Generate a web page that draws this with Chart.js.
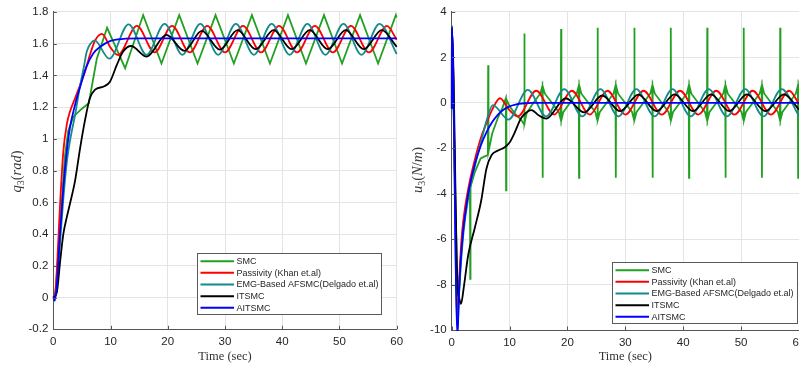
<!DOCTYPE html>
<html>
<head>
<meta charset="utf-8">
<script src="https://cdn.jsdelivr.net/npm/chart.js@4.4.0/dist/chart.umd.min.js"></script>
<style>
  html, body { margin: 0; padding: 0; background: #fff; overflow: hidden; width: 799px; height: 371px; }
  #wq { position: absolute; left: 0; top: 0; width: 420px; height: 371px; }
  #wu { position: absolute; left: 400px; top: 0; width: 420px; height: 371px; }
</style>
</head>
<body>
<div id="wq"><canvas id="cq" width="420" height="371"></canvas></div>
<div id="wu"><canvas id="cu" width="420" height="371"></canvas></div>
<script>
// ---- series names and tick labels ----
const seriesNames = ['SMC', 'Passivity (Khan et.al)', 'EMG-Based AFSMC(Delgado et.al)', 'ITSMC', 'AITSMC'];
const timeTicks = [0, 10, 20, 30, 40, 50, 60];
const timeTickLabels = ['0', '10', '20', '30', '40', '50', '60'];
const qTicks = [-0.2, 0, 0.2, 0.4, 0.6, 0.8, 1, 1.2, 1.4, 1.6, 1.8];
const qTickLabels = ['-0.2', '0', '0.2', '0.4', '0.6', '0.8', '1', '1.2', '1.4', '1.6', '1.8'];
const uTicks = [-10, -8, -6, -4, -2, 0, 2, 4];
const uTickLabels = ['-10', '-8', '-6', '-4', '-2', '0', '2', '4'];

// ---- joint position q3 (rad) ----
const qSmcT = [0, 0.3, 0.9, 1.5, 2.0, 2.6, 3.5, 5.0, 6.2, 7.6, 9.4, 12.55, 15.7, 18.9, 22.0, 25.2, 28.35, 31.55, 34.7, 37.85, 41.0, 44.15, 47.3, 50.45, 53.6, 56.75, 59.85, 60];
const qSmc  = [0, 0.0, 0.28, 0.61, 0.88, 1.05, 1.14, 1.19, 1.225, 1.505, 1.70, 1.445, 1.78, 1.475, 1.78, 1.475, 1.78, 1.475, 1.78, 1.475, 1.78, 1.475, 1.78, 1.475, 1.78, 1.475, 1.78, 1.765];

const qPasT = [0, 0.4, 0.9, 1.2, 1.75, 2.35, 2.9, 3.8, 4.7, 5.5, 6.4, 7.3, 8.5, 10.0, 11.3, 14.6, 17.7, 20.75, 23.85, 26.9, 30.0, 33.15, 36.3, 39.45, 42.6, 45.7, 48.85, 52.0, 55.15, 58.3, 60];
const qPas  = [0, 0.05, 0.38, 0.6, 0.92, 1.09, 1.17, 1.255, 1.34, 1.42, 1.53, 1.62, 1.662, 1.575, 1.528, 1.712, 1.545, 1.712, 1.545, 1.712, 1.545, 1.712, 1.545, 1.712, 1.545, 1.712, 1.545, 1.712, 1.545, 1.712, 1.625];

const qEmgT = [0, 0.5, 1.17, 1.75, 2.35, 2.9, 3.8, 4.7, 5.3, 5.85, 6.5, 7.2, 9.8, 13.15, 16.3, 19.45, 22.55, 25.7, 28.8, 31.9, 35.05, 38.15, 41.3, 44.4, 47.55, 50.7, 53.85, 57.0, 60];
const qEmg  = [0, 0.03, 0.34, 0.62, 0.85, 0.985, 1.15, 1.34, 1.445, 1.55, 1.60, 1.62, 1.505, 1.722, 1.53, 1.725, 1.53, 1.725, 1.53, 1.725, 1.53, 1.725, 1.53, 1.725, 1.53, 1.725, 1.53, 1.725, 1.535];

const qItsT = [0, 0.6, 1.2, 1.75, 2.35, 2.9, 3.8, 4.7, 5.5, 6.4, 7.3, 8.8, 9.9, 11.1, 12.2, 13.6, 16.3, 19.75, 22.9, 25.95, 29.1, 32.2, 35.35, 38.5, 41.65, 44.8, 47.95, 51.1, 54.25, 57.4, 60];
const qIts  = [0, 0.03, 0.23, 0.4, 0.505, 0.59, 0.735, 0.945, 1.11, 1.257, 1.31, 1.33, 1.36, 1.466, 1.55, 1.585, 1.518, 1.655, 1.555, 1.68, 1.562, 1.685, 1.565, 1.685, 1.565, 1.685, 1.565, 1.685, 1.565, 1.685, 1.58];

const qAitT = [0, 0.25, 0.6, 1.17, 1.75, 2.35, 2.9, 3.8, 4.7, 5.8, 7.0, 8.2, 9.9, 12.2, 15, 60];
const qAit  = [0, -0.02, 0.07, 0.40, 0.69, 0.92, 1.07, 1.215, 1.33, 1.455, 1.54, 1.58, 1.616, 1.63, 1.633, 1.633];

// ---- control input u3 (N/m) ----
const uSmcT = [0, 0.02, 1.05, 1.5, 2.0, 2.6, 3.15, 3.2, 3.25, 4.0, 5.0, 5.8, 6.25, 6.3, 6.35, 7.0, 8.0, 8.8, 9.35, 9.4, 9.45, 10.0, 11.0, 12.0, 12.5, 12.55, 12.6,
  12.95, 14.13, 15.3, 15.65, 15.7, 15.75, 16.1, 17.3, 18.5, 18.85, 18.9, 18.95,
  19.3, 20.45, 21.6, 21.95, 22.0, 22.05, 22.4, 23.6, 24.8, 25.15, 25.2, 25.25,
  25.6, 26.78, 27.95, 28.3, 28.35, 28.4, 28.75, 29.95, 31.15, 31.5, 31.55, 31.6,
  31.95, 33.13, 34.3, 34.65, 34.7, 34.75, 35.1, 36.28, 37.45, 37.8, 37.85, 37.9,
  38.25, 39.43, 40.6, 40.95, 41.0, 41.05, 41.4, 42.58, 43.75, 44.1, 44.15, 44.2,
  44.55, 45.73, 46.9, 47.25, 47.3, 47.35, 47.7, 48.88, 50.05, 50.4, 50.45, 50.5,
  50.85, 52.03, 53.2, 53.55, 53.6, 53.65, 54.0, 55.18, 56.35, 56.7, 56.75, 56.8,
  57.15, 58.3, 59.45, 59.8, 59.85, 59.9, 60];
const uSmc  = [-0.25, 3.4, -9.3, -7.0, -5.3, -4.3, -3.75, -7.75, -3.7, -3.05, -2.45, -2.35, -2.3, 1.65, -2.15, -1.35, -0.65, -0.2, 0.2, -3.85, 0.15, -0.15, -0.5, -0.75, -0.95, 3.05, -0.9,
  -0.45, 0, 0.4, 0.72, -3.3, 0.72, 0.4, 0, -0.4, -0.75, 3.25, -0.75,
  -0.4, 0, 0.4, 0.75, -3.3, 0.75, 0.4, 0, -0.4, -0.75, 3.3, -0.75,
  -0.4, 0, 0.4, 0.75, -3.3, 0.75, 0.4, 0, -0.4, -0.75, 3.3, -0.75,
  -0.4, 0, 0.4, 0.75, -3.3, 0.75, 0.4, 0, -0.4, -0.75, 3.3, -0.75,
  -0.4, 0, 0.4, 0.75, -3.3, 0.75, 0.4, 0, -0.4, -0.75, 3.3, -0.75,
  -0.4, 0, 0.4, 0.75, -3.3, 0.75, 0.4, 0, -0.4, -0.75, 3.3, -0.75,
  -0.4, 0, 0.4, 0.75, -3.3, 0.75, 0.4, 0, -0.4, -0.75, 3.3, -0.75,
  -0.4, 0, 0.4, 0.75, -3.3, 0.75, 0.65];

const uPasT = [0, 0.02, 1.05, 1.3, 1.7, 2.2, 3.0, 4.0, 5.1, 6.0, 7.0, 8.35, 9.9, 11.4, 14.6, 17.7, 20.75, 23.85, 26.9, 30.0, 33.15, 36.3, 39.45, 42.6, 45.7, 48.85, 52.0, 55.15, 58.3, 60];
const uPas  = [-0.25, 3.3, -9.4, -7.8, -6.0, -4.8, -3.6, -2.5, -1.5, -0.9, -0.3, 0.2, -0.3, -0.6, 0.53, -0.52, 0.53, -0.52, 0.53, -0.52, 0.53, -0.52, 0.53, -0.52, 0.53, -0.52, 0.53, -0.52, 0.53, -0.05];

const uEmgT = [0, 0.02, 1.0, 1.3, 2.0, 3.0, 4.0, 5.0, 6.0, 7.1, 9.8, 13.15, 16.3, 19.45, 22.55, 25.7, 28.8, 31.9, 35.05, 38.15, 41.3, 44.4, 47.55, 50.7, 53.85, 57.0, 60];
const uEmg  = [-0.25, 3.4, -9.9, -8.3, -5.8, -4.0, -2.8, -1.8, -0.8, -0.1, -0.74, 0.57, -0.6, 0.6, -0.6, 0.6, -0.6, 0.6, -0.6, 0.6, -0.6, 0.6, -0.6, 0.6, -0.6, 0.6, -0.58];

const uItsT = [0, 0.02, 1.0, 1.3, 1.6, 2.1, 2.85, 4.0, 5.1, 6.0, 6.9, 8.0, 9.1, 10.0, 10.9, 12.0, 13.2, 13.8, 15.0, 16.3, 19.7, 22.9, 26.0, 29.1, 32.25, 35.4, 38.5, 41.7, 44.8, 47.95, 51.0, 54.2, 57.4, 60];
const uIts  = [-0.25, 3.3, -8.0, -8.6, -8.85, -8.1, -6.7, -5.5, -4.3, -2.9, -2.3, -2.1, -1.97, -1.75, -1.3, -0.67, -0.37, -0.32, -0.55, -0.7, 0.2, -0.42, 0.32, -0.37, 0.36, -0.37, 0.37, -0.37, 0.37, -0.37, 0.37, -0.37, 0.37, -0.3];

const uAitT = [0, 0.02, 1.0, 1.2, 1.5, 2.0, 2.5, 3.0, 4.0, 5.0, 6.0, 7.0, 8.0, 9.0, 10.0, 11.0, 12.5, 14.0, 60];
const uAit  = [-0.25, 3.35, -10.3, -8.8, -7.2, -5.6, -4.6, -3.8, -2.7, -1.9, -1.3, -0.85, -0.52, -0.3, -0.16, -0.08, -0.02, 0, 0];

// ---- styling ----
const seriesColors = ['#22a022', '#ff0000', '#148a8c', '#000000', '#0000ff'];
const sansFont = '"Liberation Sans", Arial, Helvetica, sans-serif';
const serifFont = '"Liberation Serif", "Times New Roman", serif';
const axisColor = '#555555';
const gridColor = '#e4e4e4';
const textColor = '#262626';

function toPoints(ts, vs) { return ts.map((t, i) => ({ x: t, y: vs[i] })); }

function makeDatasets(seriesList) {
  return seriesList.map((s, i) => ({
    label: seriesNames[i],
    data: toPoints(s[0], s[1]),
    borderColor: seriesColors[i],
    borderWidth: 1.8,
    pointRadius: 0,
    fill: false,
    order: 5 - i,
    clip: 1,
    tension: i === 0 ? 0 : 0.4,
    cubicInterpolationMode: i === 0 ? 'default' : 'monotone'
  }));
}

function labelFor(ticks, labels) {
  return (value) => {
    const k = ticks.findIndex(v => Math.abs(v - value) < 1e-9);
    return k >= 0 ? labels[k] : '';
  };
}

// axis title with subscript, inward tick marks and the boxed legend
const decorPlugin = {
  id: 'decor',
  afterDatasetsDraw(chart, args, opts) {
    const ctx = chart.ctx;
    const a = chart.chartArea;
    const xs = chart.scales.x, ys = chart.scales.y;
    ctx.save();
    // inward ticks
    ctx.strokeStyle = axisColor;
    ctx.lineWidth = 1;
    ctx.beginPath();
    xs.ticks.forEach(t => {
      const px = Math.round(xs.getPixelForValue(t.value)) + 0.5;
      ctx.moveTo(px, a.bottom); ctx.lineTo(px, a.bottom - 3.5);
    });
    ys.ticks.forEach(t => {
      const py = Math.round(ys.getPixelForValue(t.value)) + 0.5;
      ctx.moveTo(a.left, py); ctx.lineTo(a.left + 3.5, py);
    });
    ctx.stroke();

    // legend
    const L = opts.legend;
    ctx.fillStyle = '#ffffff';
    ctx.fillRect(L.x, L.y, L.w, L.h);
    ctx.strokeStyle = '#5a5a5a';
    ctx.lineWidth = 1;
    ctx.strokeRect(Math.round(L.x) + 0.5, Math.round(L.y) + 0.5, L.w, L.h);
    ctx.font = '9px ' + sansFont;
    ctx.textBaseline = 'middle';
    ctx.textAlign = 'left';
    seriesNames.forEach((name, i) => {
      const cy = L.y + 8.2 + i * 11.65;
      ctx.strokeStyle = seriesColors[i];
      ctx.lineWidth = 2;
      ctx.beginPath();
      ctx.moveTo(L.x + 3.5, cy); ctx.lineTo(L.x + 37, cy);
      ctx.stroke();
      ctx.fillStyle = textColor;
      ctx.fillText(name, L.x + 39.5, cy + 0.5);
    });
    ctx.restore();
  },
  afterDraw(chart, args, opts) {
    const ctx = chart.ctx;
    const T = opts.yTitle;
    ctx.save();
    ctx.translate(T.cx, T.cy);
    ctx.rotate(-Math.PI / 2);
    const fonts = T.parts.map(p => (p.it ? 'italic ' : '') + (p.sub ? '10px ' : '14.5px ') + serifFont);
    let total = 0;
    const widths = T.parts.map((p, i) => { ctx.font = fonts[i]; const w = ctx.measureText(p.t).width; total += w; return w; });
    let x = -total / 2;
    ctx.textBaseline = 'alphabetic';
    ctx.textAlign = 'left';
    ctx.fillStyle = '#3c3c3c';
    T.parts.forEach((p, i) => {
      ctx.font = fonts[i];
      ctx.fillText(p.t, x, 4.5 + (p.sub ? 3 : 0));
      x += widths[i];
    });
    ctx.restore();
  }
};

function makeChart(id, cfg) {
  return new Chart(document.getElementById(id), {
    type: 'line',
    data: { datasets: makeDatasets(cfg.series) },
    options: {
      responsive: false,
      animation: false,
      events: [],
      layout: { padding: { left: 0, top: 10, right: cfg.padRight, bottom: 0 } },
      plugins: {
        legend: { display: false },
        tooltip: { enabled: false },
        decor: { legend: cfg.legend, yTitle: cfg.yTitle }
      },
      scales: {
        x: {
          type: 'linear', min: 0, max: 60,
          afterBuildTicks: s => { s.ticks = timeTicks.map(v => ({ value: v })); },
          afterFit: s => { s.height = cfg.xHeight; },
          grid: { color: gridColor, drawTicks: false, lineWidth: 1 },
          border: { display: true, color: axisColor, width: 1 },
          ticks: { padding: 5.5, color: textColor, font: { family: sansFont, size: 11.5 }, maxRotation: 0, autoSkip: false,
                   callback: labelFor(timeTicks, timeTickLabels) },
          title: { display: true, text: 'Time (sec)', color: '#333333',
                   font: { family: serifFont, size: 12.5 }, padding: { top: 0, bottom: 6.5 } }
        },
        y: {
          type: 'linear', min: cfg.yMin, max: cfg.yMax,
          afterBuildTicks: s => { s.ticks = cfg.yTicks.map(v => ({ value: v })); },
          afterFit: s => { s.width = cfg.yWidth; },
          grid: { color: gridColor, drawTicks: false, lineWidth: 1 },
          border: { display: true, color: axisColor, width: 1 },
          ticks: { padding: 5, color: textColor, font: { family: sansFont, size: 11.5 }, autoSkip: false,
                   callback: labelFor(cfg.yTicks, cfg.yTickLabels) }
        }
      }
    },
    plugins: [decorPlugin]
  });
}

makeChart('cq', {
  series: [[qSmcT, qSmc], [qPasT, qPas], [qEmgT, qEmg], [qItsT, qIts], [qAitT, qAit]],
  yMin: -0.2, yMax: 1.8, yTicks: qTicks, yTickLabels: qTickLabels,
  padRight: 23.3, xHeight: 41.7, yWidth: 53.3,
  legend: { x: 197, y: 253, w: 184, h: 61 },
  yTitle: { cx: 16.5, cy: 171.5, parts: [{ t: 'q', it: true }, { t: '3', sub: true }, { t: '(' }, { t: 'rad', it: true }, { t: ')' }] }
});

makeChart('cu', {
  series: [[uSmcT, uSmc], [uPasT, uPas], [uEmgT, uEmg], [uItsT, uIts], [uAitT, uAit]],
  yMin: -10, yMax: 4, yTicks: uTicks, yTickLabels: uTickLabels,
  padRight: 21, xHeight: 41, yWidth: 51.7,
  legend: { x: 212, y: 262, w: 185, h: 61 },
  yTitle: { cx: 17.5, cy: 170, parts: [{ t: 'u', it: true }, { t: '3', sub: true }, { t: '(' }, { t: 'N', it: true }, { t: '/' }, { t: 'm', it: true }, { t: ')' }] }
});
</script>
</body>
</html>
